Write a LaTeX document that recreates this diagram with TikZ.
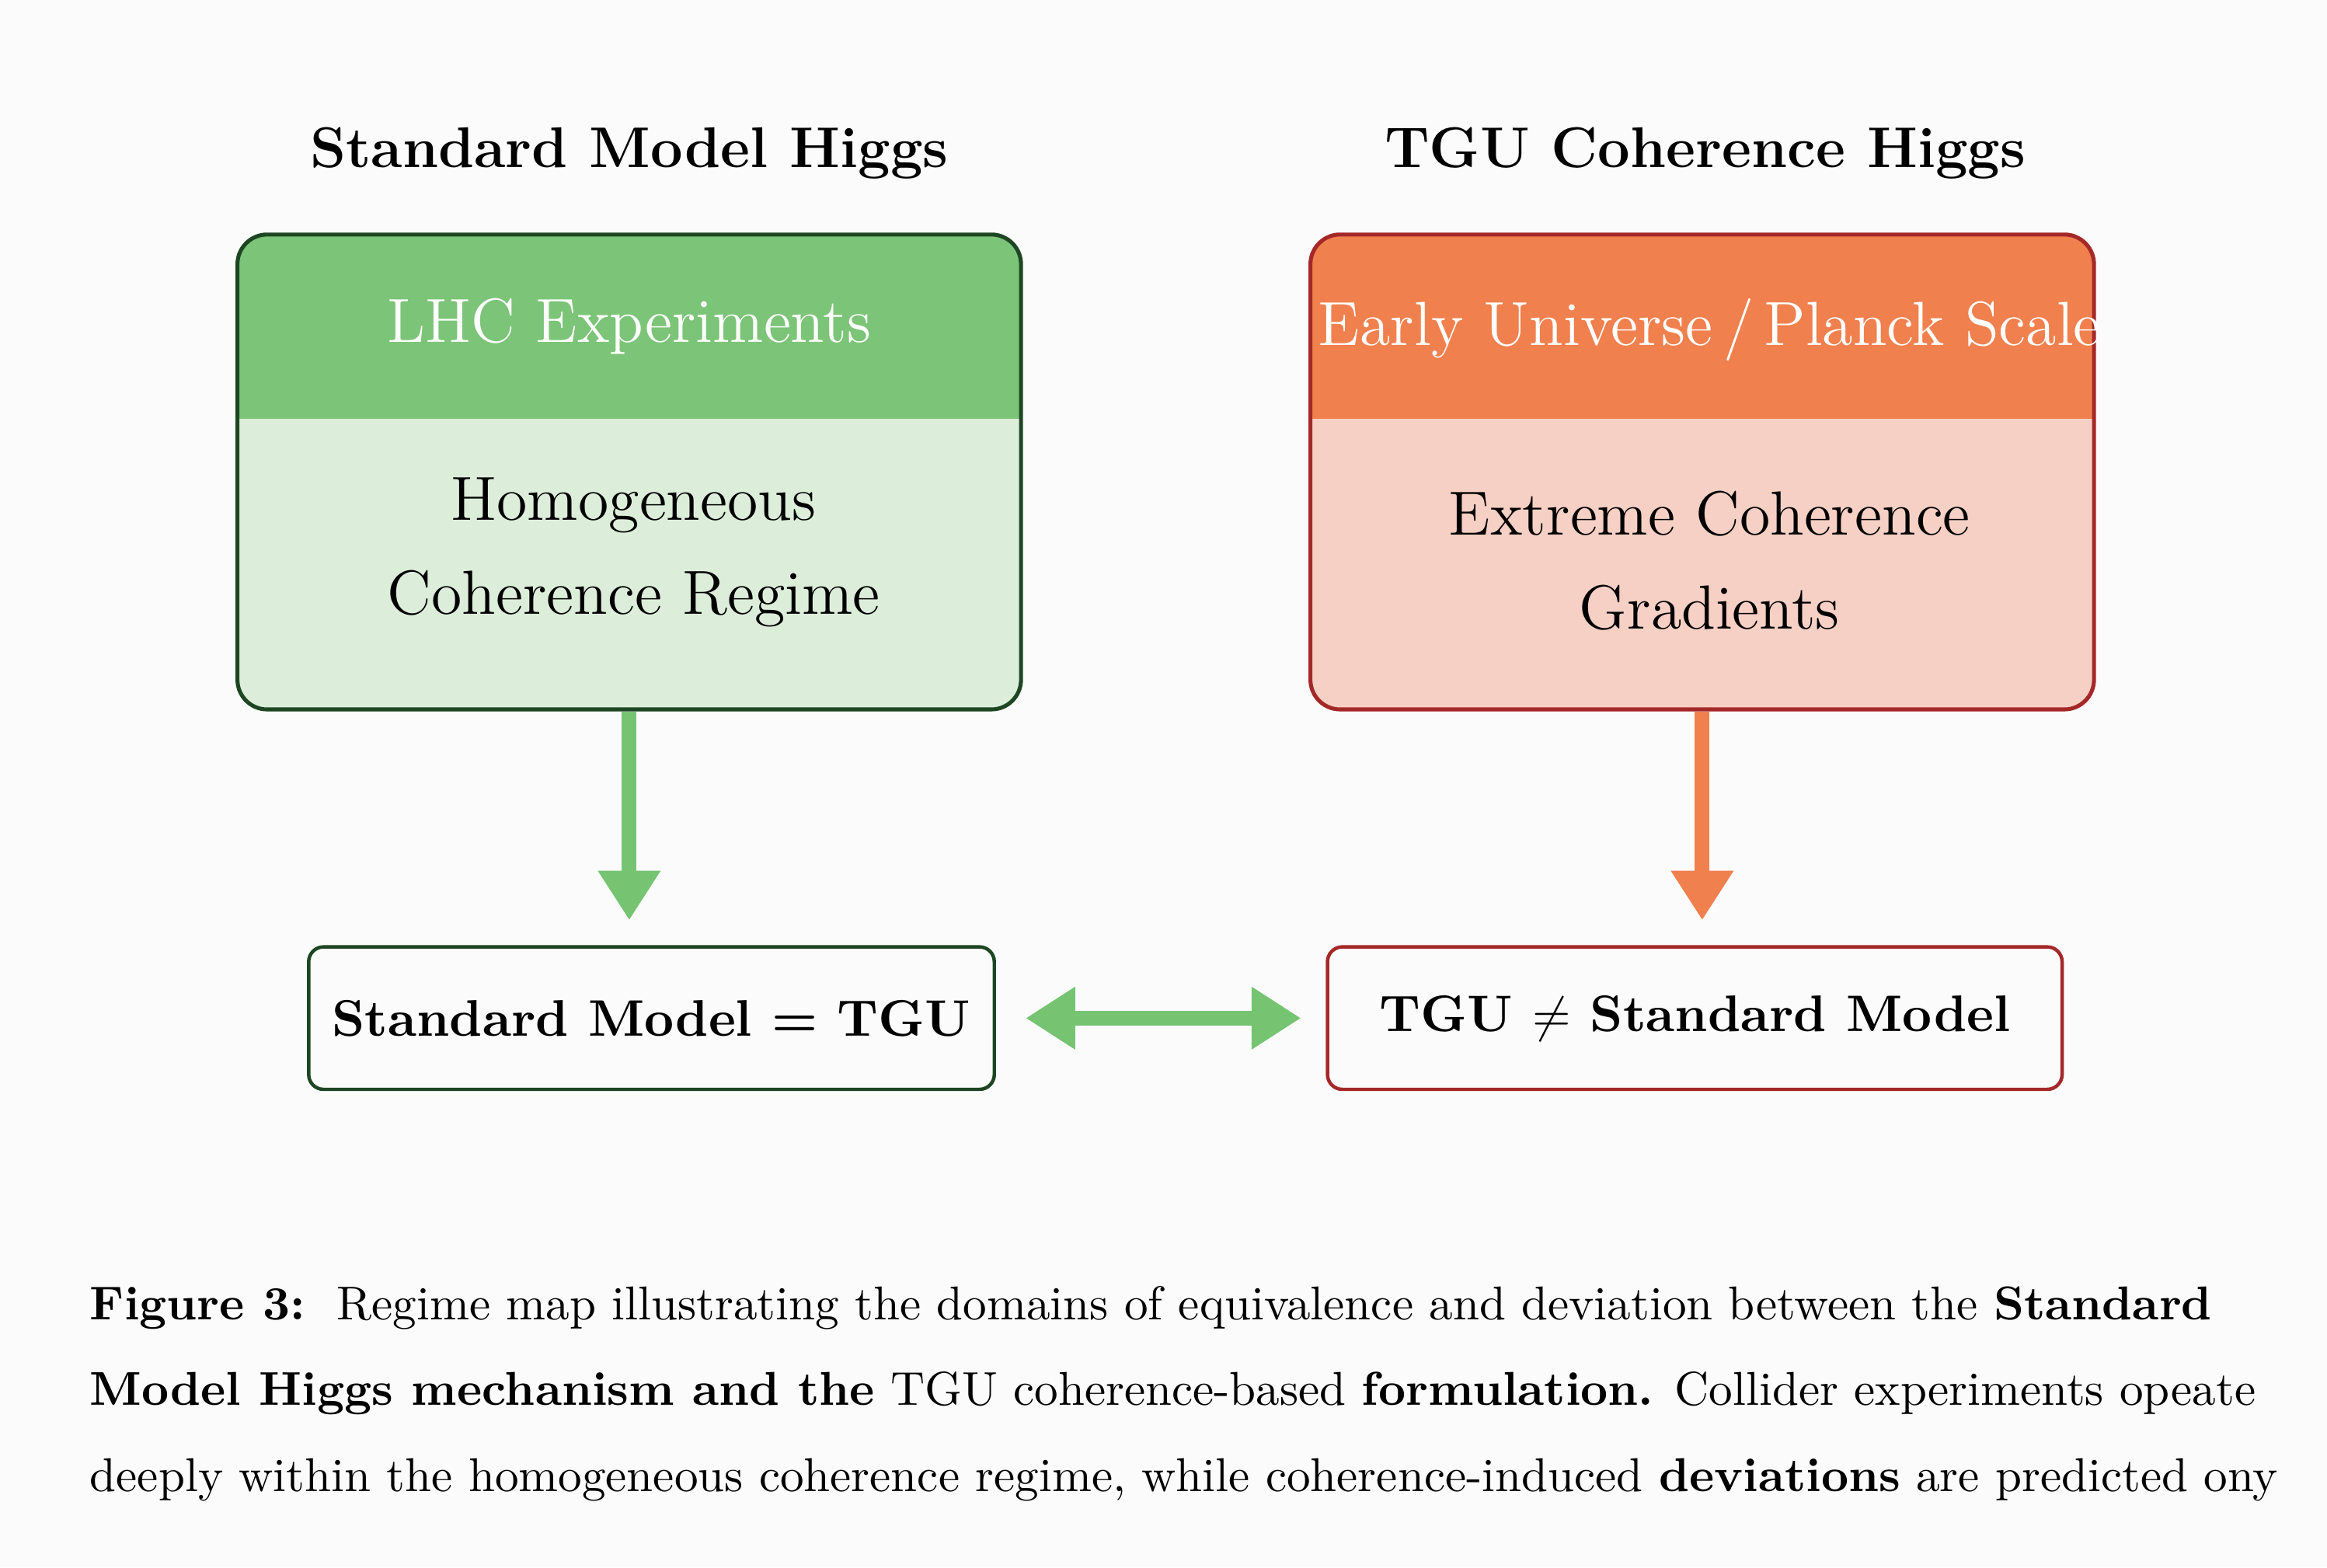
\documentclass[tikz,border=0pt]{standalone}
\usetikzlibrary{arrows.meta}
\definecolor{hdrgreen}{RGB}{124,196,120}
\definecolor{bodygreen}{RGB}{220,238,218}
\definecolor{edgegreen}{RGB}{30,70,35}
\definecolor{hdrorange}{RGB}{240,128,78}
\definecolor{bodyorange}{RGB}{246,208,196}
\definecolor{edgered}{RGB}{165,40,40}
\definecolor{arrgreen}{RGB}{118,196,114}
\definecolor{arrorange}{RGB}{240,128,78}
\tikzset{
  regime/.style={draw, rounded corners=6pt, line width=0.8pt, minimum width=158.4pt, minimum height=96pt, inner sep=0pt},
  result/.style={draw, rounded corners=3pt, line width=0.7pt, minimum height=28.8pt, font=\fontsize{10.4}{12}\selectfont\bfseries},
  boxtext/.style={font=\fontsize{12.6}{15}\selectfont},
  flow/.style={line width=3pt, -{Triangle[width=12pt,length=10pt]}},
}
\begin{document}
\begin{tikzpicture}[x=0.3pt,y=0.3pt,yscale=-1]
\useasboundingbox[fill={rgb,255:red,252;green,251;blue,251}] (0,0) rectangle (1568,1056);

% titles
\node[font=\fontsize{11.6}{14}\selectfont\bfseries] (smtitle) at (424,103) {Standard Model Higgs};
\node[font=\fontsize{11.6}{14}\selectfont\bfseries] (tgutitle) at (1149,103) {TGU Coherence Higgs};

% regime boxes
\node[regime, draw=edgegreen, fill=bodygreen,
  path picture={\fill[hdrgreen, sharp corners] (path picture bounding box.north west) rectangle ([yshift=-37.2pt]path picture bounding box.north east);}]
  (smbox) at (424,318) {};
\node[regime, draw=edgered, fill=bodyorange,
  path picture={\fill[hdrorange, sharp corners] (path picture bounding box.north west) rectangle ([yshift=-37.2pt]path picture bounding box.north east);}]
  (tgubox) at (1147,318) {};

\node[boxtext, text=white] (smhdr) at (424,220) {LHC Experiments};
\node[boxtext, align=center] (smbody) at (427,372) {Homogeneous\\[4pt]Coherence Regime};
\node[boxtext, text=white] (tguhdr) at (1152,222) {Early Universe\,/\,Planck Scale};
\node[boxtext, align=center] (tgubody) at (1152,378) {Extreme Coherence\\[4pt]Gradients};

% results
\node[result, draw=edgegreen, minimum width=138.6pt] (smeq) at (439,686) {Standard Model = TGU};
\node[result, draw=edgered, minimum width=148.5pt] (tguneq) at (1142,686) {TGU $\neq$ Standard Model};

% arrows
\draw[flow, arrgreen] (smbox.south) -- (smbox.south |- 0,620);
\draw[flow, arrorange] (tgubox.south) -- (tgubox.south |- 0,620);
\draw[line width=3pt, arrgreen, {Triangle[width=12pt,length=10pt]}-{Triangle[width=12pt,length=10pt]}]
  ([xshift=6pt]smeq.east) -- ([xshift=-5pt]tguneq.west);

% caption
\begin{scope}[every node/.style={anchor=west, inner sep=0pt, font=\fontsize{9.6}{12}\selectfont}]
\node (cap1) at (60,881) {\textbf{Figure 3:}\ \ Regime map illustrating the domains of equivalence and deviation between the \textbf{Standard}};
\node (cap2) at (60,939) {\textbf{Model Higgs mechanism and the} TGU coherence-based \textbf{formulation.} Collider experiments opeate};
\node (cap3) at (60,997) {deeply within the homogeneous coherence regime, while coherence-induced \textbf{deviations} are predicted ony};
\end{scope}
\end{tikzpicture}
\end{document}
